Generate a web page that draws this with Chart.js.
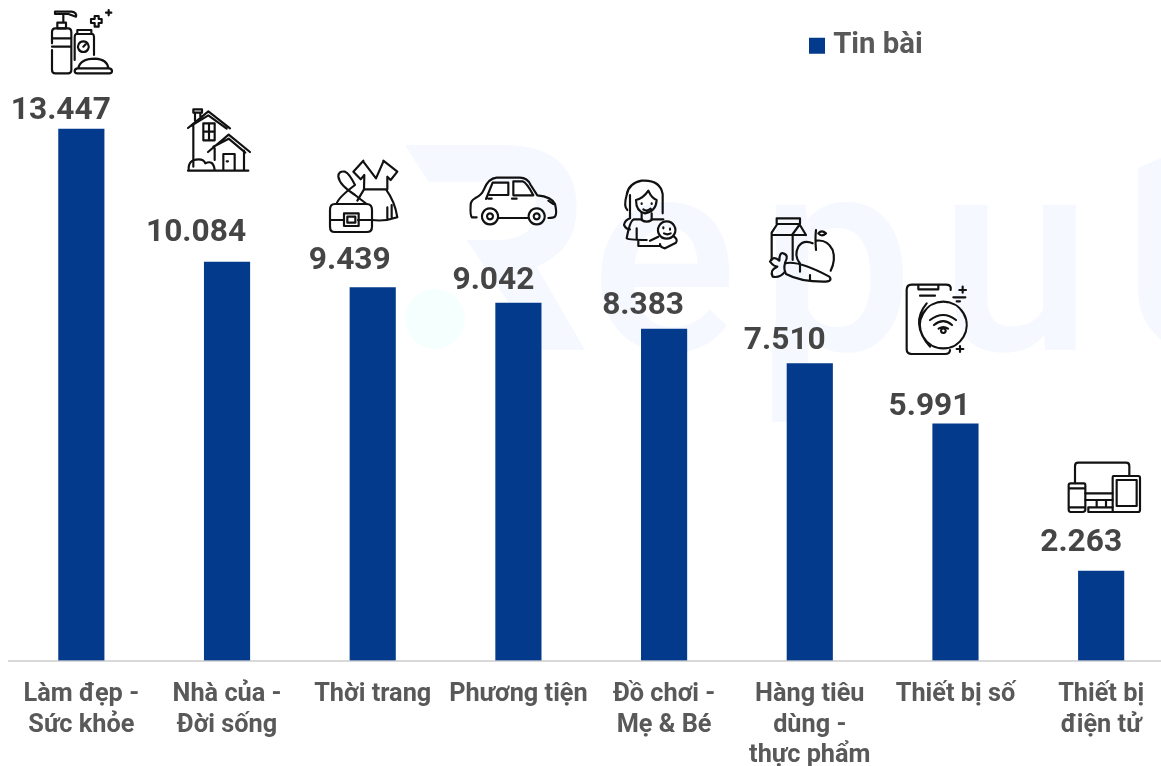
<!DOCTYPE html>
<html>
<head>
<meta charset="utf-8">
<style>
    html, body { margin: 0; padding: 0; background: #fff; overflow: hidden; width: 1161px; height: 766px; }
    canvas { display: block; }
</style>
<script src="https://cdn.jsdelivr.net/npm/chart.js@4"></script>
</head>
<body>
<canvas id="mainChart" width="1174" height="790"></canvas>
<script>
// Chart data
const categories = [
    ['Làm đẹp -', 'Sức khỏe'],
    ['Nhà của -', 'Đời sống'],
    'Thời trang',
    'Phương tiện',
    ['Đồ chơi -', 'Mẹ & Bé'],
    ['Hàng tiêu', 'dùng -', 'thực phẩm'],
    'Thiết bị số',
    ['Thiết bị', 'điện tử']
];
const posts = [13447, 10084, 9439, 9042, 8383, 7510, 5991, 2263];
const seriesName = 'Tin bài';

// Value labels were moved by hand in the original
const labelDx = [-20.5, -31, -23, -25, -21, -25, -26, -20];
const labelDy = [-18, -29, -26, -22, -23, -23, -16.5, -28];

// Line icons, written in 3x crop coordinates: [originX, originY, paths]
const icons = [
    [0, 0, [
        'M165 35 H215 Q232 38 228 50 L205 42 H190 V68 M165 35 V42 H190 M172 68 H198 V85 H172 Z',
        'M166 85 H204 Q214 85 214 97 V210 Q214 220 204 220 H166 Q156 220 156 210 V150 M156 130 V97 Q156 85 166 85 M156 115 H214 M156 140 H214',
        'M232 90 H274 V102 H232 Z M228 102 H278 Q282 104 282 112 V165 M224 180 V112 Q224 104 228 102',
        'M250 124 A16 16 0 1 0 250.1 124 Z M250 140 L257 133',
        'M235 205 Q240 176 285 176 Q322 178 325 205 M232 205 H328 Q336 207 336 213 Q336 220 328 220 H232 Q224 220 224 213 Q224 207 232 205 Z',
        'M284 48 H296 V57 H305 V69 H296 V80 H284 V69 H273 V57 H284 Z M326 30 V46 M318 38 H334'
    ]],
    [0, 0, [
        'M564 384 L625 334 L690 385 M572 378 L625 346 L680 386 M580 376 V500 M580 328 H606 V338 H580 Z M585 338 V362 M601 338 V350',
        'M610 370 H644 V421 H610 Z M627 370 V421 M610 395 H644',
        'M624 456 L686 404 L750 456 M640 440 L686 416 L736 458 M732 452 V510 M644 445 V480',
        'M670 510 V462 H704 V510 M680 484 H684',
        'M564 512 H745 M566 510 Q564 478 596 478 Q612 478 616 490 Q640 478 644 510'
    ]],
    [300, 130, [
        'M190 92 L160 125 L182 148 L193 135 L192 178 M190 95 L228 145 L250 95 M250 92 L292 125 L272 150 L262 140 V178',
        'M192 178 H258 Q285 215 292 262 Q255 275 216 270 M262 232 V265 M275 225 V262 M192 178 L172 212',
        'M110 222 Q112 205 165 165 Q148 130 135 125 Q115 122 115 140 Q118 165 165 195 L200 222',
        'M104 222 H200 Q216 222 216 240 V290 Q216 306 200 306 H104 Q90 306 90 290 V240 Q90 222 104 222 Z M90 270 H132 M174 270 H216',
        'M132 250 H176 V288 H132 Z M142 260 H166 V278 H142 Z'
    ]],
    [300, 130, [
        'M530 262 H516 Q510 258 512 225 Q512 212 525 205 Q545 195 552 178 Q565 145 590 143 H660 Q682 143 692 165 L712 196 Q755 200 765 222 Q772 250 765 260 Q760 264 745 264',
        'M595 264 H685 M558 207 L578 158 H625 V195 H568 M640 154 H668 Q680 158 700 196 H640 Z M565 206 H575 M636 206 H650 M745 212 L760 222',
        'M570 235 A24 24 0 1 0 570.1 235 Z M570 250 A9 9 0 1 0 570.1 250 Z',
        'M710 235 A24 24 0 1 0 710.1 235 Z M710 250 A9 9 0 1 0 710.1 250 Z'
    ]],
    [610, 170, [
        'M52 120 Q40 110 50 75 Q55 40 95 32 Q150 28 158 72 V130',
        'M78 90 Q78 125 105 130 Q138 125 140 90 Q125 85 115 62 Q100 85 78 90 Z M100 118 Q110 126 122 116 M95 100 V102 M125 100 V102',
        'M60 75 V145 Q45 150 42 165 Q48 178 60 178 M95 130 V150 Q110 160 125 150 V130',
        'M95 148 H72 Q60 150 50 205 Q50 210 110 210 M80 175 V205 M125 148 H160',
        'M170 154 A26 26 0 1 0 170.1 154 Z M160 172 V175 M180 176 V179 M162 190 Q172 196 182 190',
        'M145 200 L120 212 M190 198 Q205 208 198 218 L165 235 Q150 232 150 222 M85 212 V228 H150'
    ]],
    [740, 200, [
        'M110 55 H180 V72 H110 Z M112 72 L95 98 V180 M178 72 L198 105 M158 105 V180 M95 105 H195 M156 105 L178 75',
        'M218 130 Q190 118 175 140 Q162 165 178 188 M230 122 Q262 118 278 150 Q288 180 272 212 M228 90 Q225 115 228 150 M235 100 Q245 88 258 100 Q245 112 235 100',
        'M135 188 Q148 165 130 160 Q118 156 118 182 Q100 165 90 185 Q102 200 112 200 Q88 210 98 230 Q120 235 135 215',
        'M135 190 Q175 180 268 230 Q280 245 250 245 Q180 245 138 222 Q130 205 135 190 Z M180 190 V215 M210 225 V240'
    ]],
    [740, 200, [
        'M632 270 V262 Q630 254 618 254 H515 Q500 254 500 270 V448 Q500 462 515 462 H615 Q630 462 630 450',
        'M535 256 V268 H595 V256 M540 287 H585',
        'M610 305 A70 70 0 1 0 610.1 305 Z M560 310 Q510 370 570 440',
        'M570 360 Q610 330 648 360 M582 375 Q610 352 636 375 M596 386 Q610 376 624 386 M610 385 A7 7 0 1 0 610.1 385 Z',
        'M640 292 H676 M668 260 V278 M658 270 H678 M650 304 H660 M660 438 V456 M650 447 H670'
    ]],
    [740, 200, [
        'M1005 848 V798 Q1005 788 1015 788 H1158 Q1168 788 1168 798 V828',
        'M992 850 H1032 Q1036 850 1036 856 V928 Q1036 936 1028 936 H992 Q986 936 986 928 V856 Q986 850 992 850 Z M986 865 H1036 M986 922 H1036',
        'M1120 828 H1195 Q1200 828 1200 834 V930 Q1200 936 1194 936 H1122 Q1118 936 1118 930 V834 Q1118 828 1120 828 Z M1130 840 H1190 V918 H1130 Z',
        'M1036 880 H1118 M1036 900 H1118 M1070 900 V918 M1098 900 V918 M1045 922 H1118 M1045 922 V936 H1118'
    ]]
];

// Pale brand mark behind the bars, letters placed by left edge
const watermarkLetters = [['e', 599], ['p', 772], ['u', 952]];

const watermarkPlugin = {
    id: 'watermark',
    beforeDraw(chart) {
        const ctx = chart.ctx;
        ctx.save();
        ctx.fillStyle = '#f5f8ff';
        // The logo R has no stem, and the next letter is cut off by the edge
        ctx.save();
        ctx.translate(390, 130);
        ctx.scale(1 / 3, 1 / 3);
        ctx.fill(new Path2D('M45 45 H340 Q560 45 560 235 Q560 360 440 410 L585 660 H450 L230 330 H330 Q440 325 440 235 Q440 155 340 155 H115 Z'));
        ctx.restore();
        ctx.fill(new Path2D('M1138 168 L1161 158 V340 Q1138 320 1138 290 Z'));
        ctx.font = '500 275px Roboto';
        ctx.textBaseline = 'alphabetic';
        watermarkLetters.forEach(([letter, left]) => {
            const m = ctx.measureText(letter);
            ctx.fillText(letter, left + m.actualBoundingBoxLeft, 350);
        });
        ctx.fillRect(772, 340, 36, 82);
        ctx.fillStyle = '#f5fffe';
        ctx.beginPath();
        ctx.arc(435, 319, 30, 0, Math.PI * 2);
        ctx.fill();
        ctx.restore();
    }
};

// Value labels above the bars
const valueLabelPlugin = {
    id: 'valueLabels',
    afterDatasetsDraw(chart) {
        const ctx = chart.ctx;
        const meta = chart.getDatasetMeta(0);
        ctx.save();
        ctx.fillStyle = '#454545';
        ctx.font = 'bold 31.7px Roboto';
        ctx.textAlign = 'center';
        ctx.textBaseline = 'middle';
        meta.data.forEach((bar, i) => {
            const text = String(posts[i]).replace(/\B(?=(\d{3})+$)/g, '.');
            ctx.fillText(text, bar.x + labelDx[i], bar.y + labelDy[i]);
        });
        ctx.restore();
    }
};

// Icons above the bars
const iconPlugin = {
    id: 'icons',
    afterDatasetsDraw(chart) {
        const ctx = chart.ctx;
        ctx.save();
        ctx.strokeStyle = '#111';
        ctx.lineWidth = 6.5;
        ctx.lineJoin = 'round';
        ctx.lineCap = 'round';
        icons.forEach(icon => {
            ctx.save();
            ctx.translate(icon[0], icon[1]);
            ctx.scale(1 / 3, 1 / 3);
            icon[2].forEach(d => ctx.stroke(new Path2D(d)));
            ctx.restore();
        });
        ctx.restore();
    }
};

// Legend sits inside the plot, over the upper right
const legendPlacePlugin = {
    id: 'legendPlace',
    afterLayout(chart) {
        const legend = chart.legend;
        legend.left = 809;
        legend.right = 1000;
        legend.top = 24.5;
        legend.bottom = 70;
    }
};

new Chart(document.getElementById('mainChart'), {
    type: 'bar',
    data: {
        labels: categories,
        datasets: [{
            label: seriesName,
            data: posts,
            backgroundColor: '#033a8c',
            barThickness: 45.5
        }]
    },
    options: {
        responsive: false,
        animation: false,
        layout: { padding: { left: 8.5, right: 0, top: 0, bottom: 0 } },
        scales: {
            x: {
                grid: { display: false, drawTicks: false },
                border: { color: '#d9d9d9', width: 2 },
                ticks: {
                    autoSkip: false,
                    maxRotation: 0,
                    padding: 19,
                    color: '#595959',
                    font: { family: 'Roboto', size: 25.3, weight: 'bold', lineHeight: 30.5 / 25.3 }
                }
            },
            y: { display: false, min: 0, max: 16713 }
        },
        plugins: {
            legend: {
                position: 'chartArea',
                align: 'start',
                labels: {
                    padding: 6.5,
                    boxWidth: 3,
                    boxHeight: 3,
                    color: '#595959',
                    font: { family: 'Roboto', size: 29.3, weight: 'bold' },
                    // small box with a wide border, so the text sits close to the square
                    generateLabels(chart) {
                        const items = Chart.defaults.plugins.legend.labels.generateLabels(chart);
                        items.forEach(item => {
                            item.lineWidth = 13;
                            item.strokeStyle = '#033a8c';
                        });
                        return items;
                    }
                }
            },
            tooltip: { enabled: false }
        }
    },
    plugins: [watermarkPlugin, valueLabelPlugin, iconPlugin, legendPlacePlugin]
});
</script>
</body>
</html>
